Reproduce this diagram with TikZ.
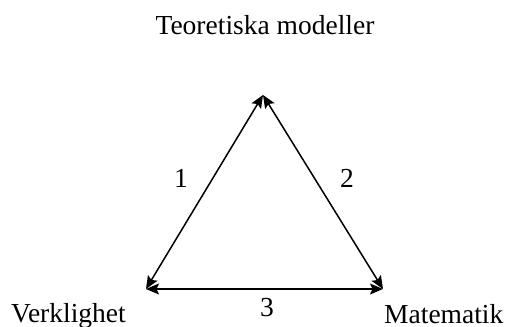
\documentclass[tikz,border=0pt]{standalone}
\usepackage{fontspec}
\setmainfont{Liberation Serif}
\usetikzlibrary{arrows.meta}
\begin{document}
\begin{tikzpicture}[x=1pt,y=1pt,
  lbl/.style={inner sep=0pt,font=\fontsize{27.5}{32}\selectfont,anchor=base},
  edge/.style={line width=1.5pt,{Stealth[length=13pt,width=11pt,inset=2.5pt]}-{Stealth[length=13pt,width=11pt,inset=2.5pt]}}]
\useasboundingbox (0,0) rectangle (507,327);
\coordinate (A) at (263,232);
\coordinate (L) at (146,38);
\coordinate (R) at (383,38);
\node[lbl] (t) at (265,292) {Teoretiska modeller};
\node[lbl,anchor=base west] (v) at (11,4) {Verklighet};
\node[lbl,anchor=base west] (m) at (384,3.5) {Matematik};
\node[lbl] (n1) at (181,139) {1};
\node[lbl] (n2) at (347,139) {2};
\node[lbl] (n3) at (267,10) {3};
\draw[edge] (L) -- (A);
\draw[edge] (R) -- (A);
\draw[edge] (L) -- (R);
\end{tikzpicture}
\end{document}
